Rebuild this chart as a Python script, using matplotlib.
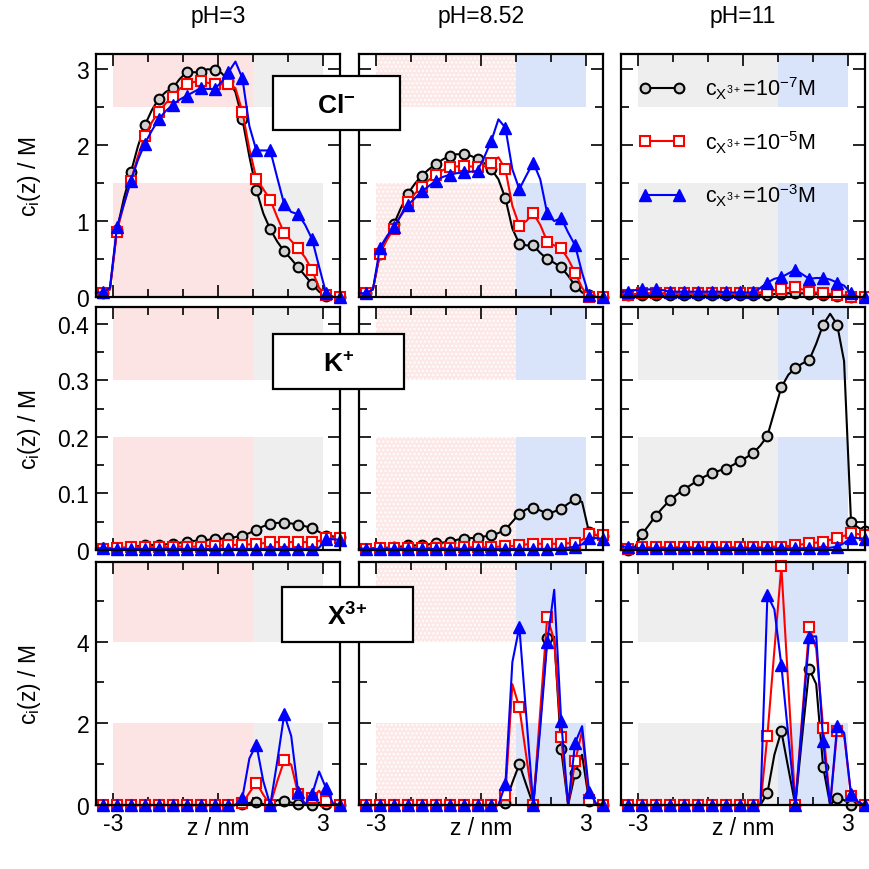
import numpy as np
import matplotlib
matplotlib.use("Agg")
import matplotlib.pyplot as plt
from matplotlib.patches import Rectangle
from matplotlib.lines import Line2D
from matplotlib.ticker import MultipleLocator, FuncFormatter

plt.rcParams['font.family'] = ['Liberation Sans', 'DejaVu Sans']
plt.rcParams['mathtext.fontset'] = 'custom'
plt.rcParams['mathtext.rm'] = 'Liberation Sans'
plt.rcParams['mathtext.it'] = 'Liberation Sans:italic'
plt.rcParams['mathtext.bf'] = 'Liberation Sans:bold'
plt.rcParams['axes.unicode_minus'] = False

# positions along the pore (nm); markers sit on every second point
z_nm = [-3.5, -3.3, -3.1, -2.9, -2.7, -2.5, -2.3, -2.1, -1.9, -1.7, -1.5, -1.3,
        -1.1, -0.9, -0.7, -0.5, -0.3, -0.1, 0.1, 0.3, 0.5, 0.7, 0.9, 1.1,
        1.3, 1.5, 1.7, 1.9, 2.1, 2.3, 2.5, 2.7, 2.9, 3.1, 3.3, 3.5]

ph_labels = ['pH=3', 'pH=8.52', 'pH=11']
ion_labels = [r'$\mathbf{Cl}^{\mathbf{-}}$', r'$\mathbf{K}^{\mathbf{+}}$',
              r'$\mathbf{X}^{\mathbf{3}\mathbf{+}}$']
legend_labels = [r'c$_{\mathrm{X}^{3+}}$=10$^{-7}$M',
                 r'c$_{\mathrm{X}^{3+}}$=10$^{-5}$M',
                 r'c$_{\mathrm{X}^{3+}}$=10$^{-3}$M']

# --- Cl- ---
cl_ph3_e7 = [0.06, 0.05, 0.10, 0.88, 1.30, 1.64, 1.98, 2.26, 2.46, 2.61, 2.70, 2.75,
             2.87, 2.96, 2.96, 2.96, 3.00, 2.99, 2.95, 2.85, 2.70, 2.34, 1.85, 1.41,
             1.10, 0.89, 0.73, 0.60, 0.50, 0.39, 0.28, 0.17, 0.07, 0.01, 0.0, 0.0]
cl_ph3_e5 = [0.05, 0.05, 0.10, 0.86, 1.22, 1.53, 1.85, 2.12, 2.30, 2.44, 2.55, 2.64,
             2.74, 2.81, 2.83, 2.85, 2.82, 2.81, 2.80, 2.81, 2.75, 2.44, 1.95, 1.56,
             1.42, 1.28, 1.05, 0.84, 0.74, 0.64, 0.52, 0.35, 0.12, 0.02, 0.0, 0.0]
cl_ph3_e3 = [0.06, 0.06, 0.12, 0.92, 1.22, 1.53, 1.80, 2.02, 2.19, 2.34, 2.45, 2.53,
             2.60, 2.65, 2.70, 2.75, 2.74, 2.74, 2.83, 2.96, 3.10, 2.88, 2.25, 1.93,
             1.93, 1.93, 1.57, 1.22, 1.12, 1.09, 0.95, 0.76, 0.40, 0.05, 0.0, 0.0]
cl_ph852_e7 = [0.05, 0.05, 0.10, 0.57, 0.78, 0.96, 1.17, 1.36, 1.49, 1.60, 1.68, 1.75,
               1.81, 1.86, 1.88, 1.88, 1.86, 1.82, 1.76, 1.68, 1.55, 1.30, 0.90, 0.70,
               0.68, 0.68, 0.58, 0.50, 0.45, 0.39, 0.28, 0.15, 0.06, 0.02, 0.0, 0.0]
cl_ph852_e5 = [0.05, 0.05, 0.10, 0.57, 0.75, 0.90, 1.08, 1.25, 1.36, 1.45, 1.54, 1.61,
               1.67, 1.71, 1.72, 1.72, 1.72, 1.71, 1.72, 1.76, 1.84, 1.68, 1.20, 0.94,
               1.00, 1.10, 0.95, 0.73, 0.68, 0.64, 0.50, 0.32, 0.12, 0.0, 0.0, 0.0]
cl_ph852_e3 = [0.05, 0.05, 0.10, 0.65, 0.80, 0.92, 1.07, 1.21, 1.30, 1.39, 1.46, 1.53,
               1.58, 1.61, 1.63, 1.64, 1.65, 1.66, 1.85, 2.06, 2.34, 2.23, 1.68, 1.42,
               1.60, 1.77, 1.55, 1.10, 1.00, 1.04, 0.85, 0.68, 0.32, 0.02, 0.0, 0.0]
cl_ph11_e7 = [0.02, 0.02, 0.02, 0.02, 0.02, 0.02, 0.02, 0.02, 0.02, 0.02, 0.02, 0.02,
              0.02, 0.02, 0.02, 0.02, 0.02, 0.02, 0.02, 0.02, 0.03, 0.03, 0.04, 0.04,
              0.05, 0.05, 0.05, 0.04, 0.04, 0.03, 0.02, 0.01, 0.01, 0.0, 0.0, 0.0]
cl_ph11_e5 = [0.02, 0.03, 0.04, 0.05, 0.05, 0.05, 0.05, 0.05, 0.05, 0.05, 0.05, 0.05,
              0.05, 0.05, 0.05, 0.05, 0.05, 0.05, 0.05, 0.05, 0.06, 0.07, 0.09, 0.10,
              0.12, 0.13, 0.10, 0.07, 0.06, 0.05, 0.04, 0.03, 0.02, 0.0, 0.0, 0.0]
cl_ph11_e3 = [0.07, 0.07, 0.09, 0.10, 0.10, 0.10, 0.09, 0.07, 0.07, 0.07, 0.07, 0.07,
              0.07, 0.07, 0.07, 0.06, 0.06, 0.06, 0.06, 0.06, 0.12, 0.19, 0.24, 0.26,
              0.31, 0.36, 0.30, 0.24, 0.25, 0.25, 0.23, 0.19, 0.15, 0.05, 0.0, 0.0]

# --- K+ ---
k_ph3_e7 = [0.004, 0.004, 0.003, 0.002, 0.004, 0.005, 0.007, 0.008, 0.009, 0.009, 0.010, 0.011,
            0.013, 0.014, 0.016, 0.017, 0.018, 0.019, 0.020, 0.021, 0.023, 0.025, 0.030, 0.036,
            0.042, 0.046, 0.048, 0.048, 0.047, 0.045, 0.042, 0.039, 0.032, 0.025, 0.024, 0.023]
k_ph3_e5 = [0.002, 0.001, 0.003, 0.004, 0.004, 0.005, 0.005, 0.005, 0.005, 0.005, 0.005, 0.005,
            0.006, 0.006, 0.006, 0.006, 0.007, 0.007, 0.008, 0.008, 0.009, 0.009, 0.010, 0.011,
            0.012, 0.014, 0.014, 0.014, 0.014, 0.014, 0.014, 0.014, 0.016, 0.022, 0.022, 0.022]
k_ph3_e3 = [0.003, 0.003, 0.002, 0.002, 0.002, 0.002, 0.002, 0.002, 0.002, 0.002, 0.002, 0.002,
            0.002, 0.002, 0.002, 0.002, 0.002, 0.002, 0.002, 0.002, 0.002, 0.002, 0.002, 0.002,
            0.002, 0.002, 0.002, 0.002, 0.002, 0.002, 0.002, 0.002, 0.004, 0.020, 0.019, 0.018]
k_ph852_e7 = [0.003, 0.002, 0.003, 0.004, 0.004, 0.005, 0.006, 0.008, 0.008, 0.009, 0.010, 0.012,
              0.013, 0.015, 0.018, 0.020, 0.021, 0.022, 0.024, 0.026, 0.030, 0.036, 0.050, 0.064,
              0.072, 0.075, 0.070, 0.064, 0.068, 0.073, 0.082, 0.090, 0.085, 0.031, 0.026, 0.024]
k_ph852_e5 = [0.002, 0.001, 0.002, 0.003, 0.003, 0.004, 0.004, 0.004, 0.004, 0.004, 0.004, 0.004,
              0.004, 0.004, 0.004, 0.005, 0.005, 0.005, 0.005, 0.005, 0.006, 0.007, 0.007, 0.008,
              0.010, 0.011, 0.011, 0.011, 0.011, 0.011, 0.012, 0.012, 0.018, 0.028, 0.027, 0.026]
k_ph852_e3 = [0.003, 0.002, 0.002, 0.002, 0.002, 0.002, 0.002, 0.002, 0.002, 0.002, 0.002, 0.002,
              0.002, 0.002, 0.002, 0.002, 0.002, 0.002, 0.002, 0.002, 0.002, 0.002, 0.002, 0.002,
              0.002, 0.002, 0.002, 0.002, 0.002, 0.003, 0.004, 0.006, 0.010, 0.022, 0.021, 0.020]
k_ph11_e7 = [0.0, 0.0, 0.005, 0.028, 0.044, 0.061, 0.075, 0.088, 0.098, 0.107, 0.115, 0.123,
             0.130, 0.136, 0.140, 0.144, 0.150, 0.157, 0.164, 0.172, 0.185, 0.202, 0.245, 0.288,
             0.310, 0.322, 0.330, 0.336, 0.365, 0.399, 0.418, 0.399, 0.334, 0.049, 0.040, 0.033]
k_ph11_e5 = [0.002, 0.001, 0.003, 0.005, 0.005, 0.005, 0.005, 0.005, 0.005, 0.005, 0.005, 0.005,
             0.005, 0.005, 0.005, 0.005, 0.005, 0.005, 0.005, 0.005, 0.005, 0.006, 0.006, 0.006,
             0.007, 0.009, 0.010, 0.012, 0.013, 0.015, 0.018, 0.021, 0.025, 0.030, 0.028, 0.027]
k_ph11_e3 = [0.006, 0.006, 0.004, 0.003, 0.003, 0.003, 0.003, 0.003, 0.003, 0.003, 0.003, 0.003,
             0.003, 0.003, 0.003, 0.003, 0.003, 0.003, 0.003, 0.003, 0.003, 0.003, 0.003, 0.003,
             0.003, 0.003, 0.003, 0.003, 0.003, 0.003, 0.004, 0.006, 0.012, 0.022, 0.021, 0.020]

# --- X3+ ---
x_ph3_e7 = [0.0] * 21 + [0.02, 0.05, 0.08, 0.02, 0.0, 0.12, 0.10, 0.06, 0.02, 0.03, 0.0,
                         0.06, 0.02, 0.0, 0.0]
x_ph3_e5 = [0.0] * 21 + [0.04, 0.30, 0.55, 0.25, 0.0, 0.58, 1.09, 0.99, 0.26, 0.04, 0.16,
                         0.35, 0.10, 0.0, 0.0]
x_ph3_e3 = [0.0] * 21 + [0.18, 1.14, 1.48, 0.58, 0.0, 1.07, 2.22, 1.69, 0.31, 0.0, 0.26,
                         0.82, 0.41, 0.04, 0.0]
x_ph852_e7 = [0.0] * 21 + [0.04, 0.55, 1.00, 0.49, 0.0, 2.04, 4.10, 4.12, 1.36, 0.0, 0.78,
                           1.23, 0.10, 0.0, 0.0]
x_ph852_e5 = [0.0] * 21 + [0.25, 2.96, 2.39, 1.19, 0.0, 2.30, 4.61, 4.03, 1.66, 0.0, 1.07,
                           1.81, 0.12, 0.0, 0.0]
x_ph852_e3 = [0.0] * 21 + [0.51, 3.50, 4.36, 2.17, 0.0, 1.89, 4.00, 5.27, 2.06, 0.0, 1.52,
                           1.93, 0.33, 0.04, 0.0]
x_ph11_e7 = [0.0] * 21 + [0.29, 1.23, 1.81, 0.90, 0.0, 1.70, 3.33, 2.96, 0.93, 0.0, 0.18,
                          0.12, 0.0, 0.0, 0.0]
x_ph11_e5 = [0.0] * 21 + [1.70, 3.79, 5.84, 2.91, 0.0, 2.20, 4.36, 3.83, 1.89, 0.0, 1.81,
                          1.73, 0.21, 0.04, 0.0]
x_ph11_e3 = [0.0] * 21 + [5.14, 4.79, 3.42, 1.69, 0.0, 2.06, 4.12, 4.13, 1.56, 0.0, 1.93,
                          1.77, 0.26, 0.08, 0.0]

profiles = [
    [(cl_ph3_e7, cl_ph3_e5, cl_ph3_e3), (cl_ph852_e7, cl_ph852_e5, cl_ph852_e3),
     (cl_ph11_e7, cl_ph11_e5, cl_ph11_e3)],
    [(k_ph3_e7, k_ph3_e5, k_ph3_e3), (k_ph852_e7, k_ph852_e5, k_ph852_e3),
     (k_ph11_e7, k_ph11_e5, k_ph11_e3)],
    [(x_ph3_e7, x_ph3_e5, x_ph3_e3), (x_ph852_e7, x_ph852_e5, x_ph852_e3),
     (x_ph11_e7, x_ph11_e5, x_ph11_e3)],
]

# layout (pixels of the 869x870 canvas)
W, H = 869, 870
col_left = [96, 359, 621]
row_top = [55, 308, 563]
ax_w, ax_h = 244, 243

y_max = [3.2, 0.43, 5.95]
y_major = [1, 0.1, 2]
y_minor = [0.5, 0.05, 1]
bands = [(1.5, 2.5), (0.2, 0.3), (2.0, 4.0)]

PINK = '#fde4e4'
GREY = '#eeeeee'
BLUE = '#d9e3fa'
region_colors = [(PINK, GREY), ('stipple', BLUE), (GREY, BLUE)]

styles = [
    dict(color='black', marker='o', ms=7, mfc='#d0d0d0', mec='black', mew=1.5),
    dict(color='red', marker='s', ms=6.5, mfc='white', mec='red', mew=1.5),
    dict(color='blue', marker='^', ms=8, mfc='blue', mec='blue', mew=1.0),
]

yfmt = FuncFormatter(lambda v, _: '%g' % round(v, 3))
# the bottom row labels only the outer ticks; "z / nm" sits in the middle
xfmt = FuncFormatter(lambda v, _: '' if abs(v) < 1e-9 else '%d' % round(v))

fig = plt.figure(figsize=(W / 100, H / 100), dpi=100)

for r in range(3):
    for c in range(3):
        ax = fig.add_axes([col_left[c] / W, 1 - (row_top[r] + ax_h) / H, ax_w / W, ax_h / H])
        ax.set_xlim(-3.5, 3.5)
        ax.set_ylim(0, y_max[r])

        lo, hi = bands[r]
        left_c, right_c = region_colors[c]
        for y0, y1 in [(0, lo), (hi, y_max[r])]:
            if left_c == 'stipple':
                ax.add_patch(Rectangle((-3, y0), 4, y1 - y0, facecolor='#fde8e8',
                                       edgecolor='white', hatch='....', lw=0, zorder=0))
            else:
                ax.add_patch(Rectangle((-3, y0), 4, y1 - y0, facecolor=left_c, lw=0, zorder=0))
            ax.add_patch(Rectangle((1, y0), 2, y1 - y0, facecolor=right_c, lw=0, zorder=0))

        for vals, st in zip(profiles[r][c], styles):
            ax.plot(z_nm, vals, lw=1.5, markevery=slice(1, None, 2), clip_on=False,
                    zorder=3, **st)

        ax.xaxis.set_major_locator(MultipleLocator(3))
        ax.xaxis.set_minor_locator(MultipleLocator(1))
        ax.xaxis.set_major_formatter(xfmt)
        ax.yaxis.set_major_locator(MultipleLocator(y_major[r]))
        ax.yaxis.set_minor_locator(MultipleLocator(y_minor[r]))
        ax.yaxis.set_major_formatter(yfmt)
        ax.tick_params(which='both', direction='in', top=True, right=True, width=1.2,
                       labelsize=16.5)
        ax.tick_params(which='major', length=8.5, pad=5)
        ax.tick_params(which='minor', length=6)
        if c > 0:
            ax.tick_params(labelleft=False)
        if r < 2:
            ax.tick_params(labelbottom=False)
        for sp in ax.spines.values():
            sp.set_linewidth(1.6)
            sp.set_zorder(4)

        if r == 0 and c == 2:
            handles = [Line2D([0], [0], lw=1.5, **st) for st in styles]
            ax.legend(handles, legend_labels, loc='upper left', bbox_to_anchor=(0.07, 0.915),
                      frameon=False, fontsize=15.5, handlelength=2.2, handletextpad=0.9,
                      labelspacing=1.25, borderpad=0, borderaxespad=0, numpoints=2)

# column titles, axis labels
for c in range(3):
    fig.text((col_left[c] + ax_w / 2) / W, 1 - 16 / H, ph_labels[c], ha='center',
             va='center', fontsize=16.5)
    fig.text((col_left[c] + ax_w / 2) / W, 1 - 829 / H, 'z / nm', ha='center',
             va='center', fontsize=16.5)
for r in range(3):
    fig.text(30 / W, 1 - (row_top[r] + ax_h / 2) / H, r'c$_\mathrm{i}$(z) / M',
             rotation=90, ha='center', va='center', fontsize=16.5)

# ion boxes straddling the first two columns
ion_boxes = [(273, 77, 127, 54), (273, 335, 131, 55), (282, 588, 131, 55)]
for (bx, by, bw, bh), lab in zip(ion_boxes, ion_labels):
    fig.add_artist(Rectangle((bx / W, 1 - (by + bh) / H), bw / W, bh / H,
                             transform=fig.transFigure, facecolor='white',
                             edgecolor='black', lw=1.6, zorder=10))
    fig.text((bx + bw / 2) / W, 1 - (by + bh / 2 + 2) / H, lab, ha='center', va='center',
             fontsize=19, zorder=11)

fig.savefig('out.png', dpi=100)
